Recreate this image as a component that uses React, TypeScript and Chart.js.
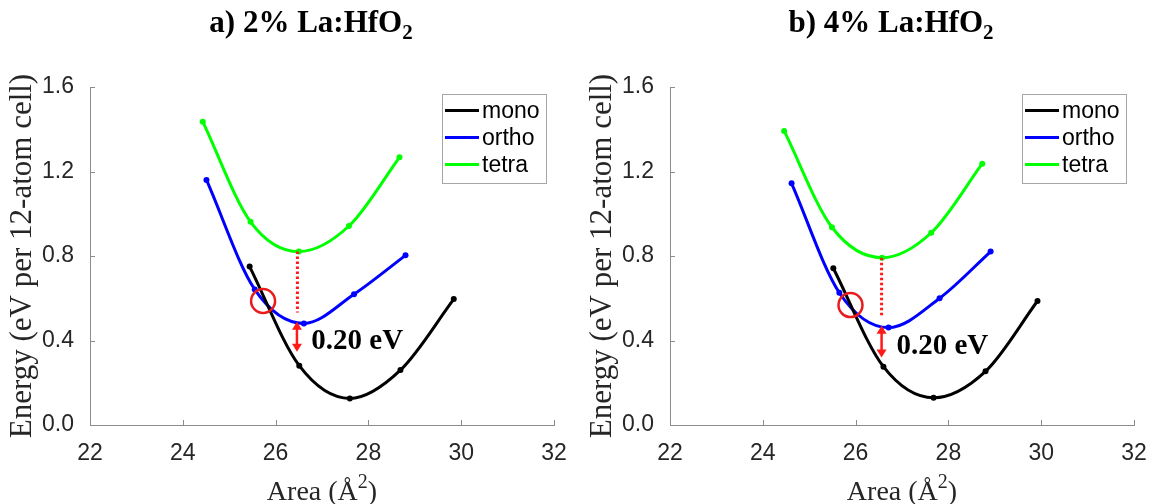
import React, { useEffect, useRef } from 'react';
import { Chart, registerables } from 'chart.js';

Chart.register(...registerables);

// ---------- data ----------
const xTickValues = [22, 24, 26, 28, 30, 32];
const yTickValues = [0, 0.4, 0.8, 1.2, 1.6];
const seriesNames = ['mono', 'ortho', 'tetra'];
const seriesColors = ['#000000', '#0000ff', '#00ff00'];

// panel a) 2% La:HfO2
const areaMonoA = [25.44, 26.51, 27.6, 28.69, 29.84];
const energyMonoA = [0.75, 0.281, 0.126, 0.26, 0.596];
const areaOrthoA = [24.51, 25.55, 26.61, 27.69, 28.8];
const energyOrthoA = [1.16, 0.642, 0.481, 0.619, 0.803];
const areaTetraA = [24.43, 25.46, 26.5, 27.58, 28.67];
const energyTetraA = [1.436, 0.962, 0.821, 0.942, 1.267];

// panel b) 4% La:HfO2
const areaMonoB = [25.52, 26.6, 27.68, 28.8, 29.92];
const energyMonoB = [0.742, 0.276, 0.129, 0.254, 0.587];
const areaOrthoB = [24.62, 25.65, 26.71, 27.81, 28.91];
const energyOrthoB = [1.144, 0.626, 0.461, 0.6, 0.821];
const areaTetraB = [24.46, 25.49, 26.57, 27.63, 28.73];
const energyTetraB = [1.392, 0.936, 0.792, 0.91, 1.237];

const titlePrefixes = ['a) 2% La:HfO', 'b) 4% La:HfO'];
const titleSubscript = '2';
const yAxisTitle = 'Energy (eV per 12-atom cell)';
const xAxisTitleMain = 'Area (Å';
const xAxisTitleSup = '2';
const xAxisTitleEnd = ')';
const gapLabel = '0.20 eV';

// annotations [panel a, panel b]
const crossingArea = [25.73, 25.89];
const crossingEnergy = [0.587, 0.568];
const dropArea = [26.47, 26.56];
const dropTopEnergy = [0.821, 0.792];
const dropBottomEnergy = [0.532, 0.51];
const arrowArea = [26.46, 26.56];
const arrowTopEnergy = [0.489, 0.47];
const arrowBottomEnergy = [0.347, 0.32];
const labelArea = [26.77, 26.88];
const labelEnergy = [0.394, 0.371];

const panels = [
  {
    areas: [areaMonoA, areaOrthoA, areaTetraA],
    energies: [energyMonoA, energyOrthoA, energyTetraA],
  },
  {
    areas: [areaMonoB, areaOrthoB, areaTetraB],
    energies: [energyMonoB, energyOrthoB, energyTetraB],
  },
];

const AXIS_GREY = '#8c8c8c';
const TEXT_GREY = '#262626';
const RED = '#ff1a1a';

function makeOverlay(p: number) {
  return {
    id: 'overlay' + p,
    afterDraw(chart: any) {
      const { ctx, chartArea, scales } = chart;
      const xs = scales.x;
      const ys = scales.y;
      ctx.save();

      // inward tick marks
      ctx.strokeStyle = AXIS_GREY;
      ctx.lineWidth = 1;
      ctx.beginPath();
      xTickValues.forEach((v) => {
        const px = Math.round(xs.getPixelForValue(v)) + 0.5;
        ctx.moveTo(px, chartArea.bottom);
        ctx.lineTo(px, chartArea.bottom - 5);
      });
      yTickValues.forEach((v) => {
        const py = Math.round(ys.getPixelForValue(v)) + 0.5;
        ctx.moveTo(chartArea.left, py);
        ctx.lineTo(chartArea.left + 5, py);
      });
      ctx.stroke();

      // red dotted drop line
      const dx = xs.getPixelForValue(dropArea[p]);
      ctx.strokeStyle = RED;
      ctx.lineWidth = 3;
      ctx.setLineDash([2.5, 2.5]);
      ctx.beginPath();
      ctx.moveTo(dx, ys.getPixelForValue(dropTopEnergy[p]));
      ctx.lineTo(dx, ys.getPixelForValue(dropBottomEnergy[p]));
      ctx.stroke();
      ctx.setLineDash([]);

      // double arrow
      const ax = xs.getPixelForValue(arrowArea[p]);
      const at = ys.getPixelForValue(arrowTopEnergy[p]);
      const ab = ys.getPixelForValue(arrowBottomEnergy[p]);
      const head = 8;
      const hw = 5;
      ctx.lineWidth = 2.5;
      ctx.beginPath();
      ctx.moveTo(ax, at + head - 1);
      ctx.lineTo(ax, ab - head + 1);
      ctx.stroke();
      ctx.fillStyle = RED;
      ctx.beginPath();
      ctx.moveTo(ax, at);
      ctx.lineTo(ax - hw, at + head);
      ctx.lineTo(ax + hw, at + head);
      ctx.closePath();
      ctx.fill();
      ctx.beginPath();
      ctx.moveTo(ax, ab);
      ctx.lineTo(ax - hw, ab - head);
      ctx.lineTo(ax + hw, ab - head);
      ctx.closePath();
      ctx.fill();

      // crossing circle
      ctx.strokeStyle = '#e81c1c';
      ctx.lineWidth = 2.5;
      ctx.beginPath();
      ctx.arc(xs.getPixelForValue(crossingArea[p]), ys.getPixelForValue(crossingEnergy[p]), 12, 0, Math.PI * 2);
      ctx.stroke();

      // gap label
      ctx.fillStyle = '#000';
      ctx.font = 'bold 29px "Liberation Serif"';
      ctx.textAlign = 'left';
      ctx.textBaseline = 'middle';
      ctx.fillText(gapLabel, xs.getPixelForValue(labelArea[p]), ys.getPixelForValue(labelEnergy[p]));

      // legend
      const lx0 = 442.5, ly0 = 94.5, lw = 104, lh = 89;
      ctx.fillStyle = '#fff';
      ctx.fillRect(lx0, ly0, lw, lh);
      ctx.strokeStyle = '#a6a6a6';
      ctx.lineWidth = 1;
      ctx.strokeRect(lx0, ly0, lw, lh);
      ctx.font = '23px "Liberation Sans"';
      ctx.textBaseline = 'middle';
      seriesNames.forEach((name, i) => {
        const ry = 110.5 + i * 27;
        ctx.strokeStyle = seriesColors[i];
        ctx.lineWidth = 3;
        ctx.beginPath();
        ctx.moveTo(445, ry);
        ctx.lineTo(479, ry);
        ctx.stroke();
        ctx.fillStyle = '#000';
        ctx.fillText(name, 482, ry + 1);
      });

      // panel title with subscript
      const tMain = titlePrefixes[p];
      ctx.font = 'bold 31px "Liberation Serif"';
      const wMain = ctx.measureText(tMain).width;
      ctx.font = 'bold 21px "Liberation Serif"';
      const wSub = ctx.measureText(titleSubscript).width;
      const tx = 311 - (wMain + wSub) / 2;
      ctx.textBaseline = 'alphabetic';
      ctx.fillStyle = '#000';
      ctx.font = 'bold 31px "Liberation Serif"';
      ctx.fillText(tMain, tx, 32);
      ctx.font = 'bold 21px "Liberation Serif"';
      ctx.fillText(titleSubscript, tx + wMain, 39);

      // x axis title with superscript
      ctx.fillStyle = TEXT_GREY;
      ctx.font = '28px "Liberation Serif"';
      const w1 = ctx.measureText(xAxisTitleMain).width;
      const w3 = ctx.measureText(xAxisTitleEnd).width;
      ctx.font = '20px "Liberation Serif"';
      const w2 = ctx.measureText(xAxisTitleSup).width;
      const cx = (chartArea.left + chartArea.right) / 2;
      let sx = cx - (w1 + w2 + w3) / 2;
      ctx.font = '28px "Liberation Serif"';
      ctx.fillText(xAxisTitleMain, sx, 500);
      sx += w1;
      ctx.font = '20px "Liberation Serif"';
      ctx.fillText(xAxisTitleSup, sx, 488);
      sx += w2;
      ctx.font = '28px "Liberation Serif"';
      ctx.fillText(xAxisTitleEnd, sx, 500);

      ctx.restore();
    },
  };
}

function buildChart(canvas: HTMLCanvasElement, p: number, padRight: number) {
  const panel = panels[p];
  return new Chart(canvas, {
    type: 'scatter',
    data: {
      datasets: seriesNames.map((name, i) => ({
        label: name,
        data: panel.areas[i].map((a, j) => ({ x: a, y: panel.energies[i][j] })),
        showLine: true,
        borderColor: seriesColors[i],
        backgroundColor: seriesColors[i],
        borderWidth: 3,
        pointRadius: 3,
        pointBorderWidth: 0,
        pointHoverRadius: 3,
        cubicInterpolationMode: 'monotone',
      })),
    },
    options: {
      animation: false,
      responsive: false,
      maintainAspectRatio: false,
      events: [],
      layout: { padding: { top: 87, right: padRight, left: 0, bottom: 0 } },
      plugins: {
        legend: { display: false },
        tooltip: { enabled: false },
        title: { display: false },
      },
      scales: {
        x: {
          type: 'linear',
          min: 22,
          max: 32,
          afterBuildTicks: (s: any) => {
            s.ticks = xTickValues.map((v) => ({ value: v }));
          },
          afterFit: (s: any) => {
            s.height = 79;
          },
          grid: { display: false },
          border: { display: true, color: AXIS_GREY, width: 1 },
          ticks: {
            font: { family: 'Liberation Sans', size: 23 },
            color: TEXT_GREY,
            padding: 7,
            maxRotation: 0,
            autoSkip: false,
          },
        },
        y: {
          type: 'linear',
          min: 0,
          max: 1.6,
          afterBuildTicks: (s: any) => {
            s.ticks = yTickValues.map((v) => ({ value: v }));
          },
          afterFit: (s: any) => {
            s.width = 90;
          },
          grid: { display: false },
          border: { display: true, color: AXIS_GREY, width: 1 },
          ticks: {
            font: { family: 'Liberation Sans', size: 23 },
            color: TEXT_GREY,
            padding: 8,
            autoSkip: false,
            callback: (v: any) => Number(v).toFixed(1),
          },
          title: {
            display: true,
            text: yAxisTitle,
            font: { family: 'Liberation Serif', size: 31 },
            color: TEXT_GREY,
            padding: { top: 4, bottom: 0 },
          },
        },
      },
    },
    plugins: [makeOverlay(p)],
  } as any);
}

export default function App() {
  const ref1 = useRef<HTMLCanvasElement>(null);
  const ref2 = useRef<HTMLCanvasElement>(null);

  useEffect(() => {
    const c1 = buildChart(ref1.current as HTMLCanvasElement, 0, 24);
    const c2 = buildChart(ref2.current as HTMLCanvasElement, 1, 22);
    return () => {
      c1.destroy();
      c2.destroy();
    };
  }, []);

  return (
    <div style={{ position: 'absolute', left: 0, top: 0, width: 1156, height: 504, background: '#fff', overflow: 'hidden' }}>
      <canvas ref={ref1} width={578} height={504} style={{ position: 'absolute', left: 0, top: 0 }} />
      <canvas ref={ref2} width={576} height={504} style={{ position: 'absolute', left: 580, top: 0 }} />
    </div>
  );
}
